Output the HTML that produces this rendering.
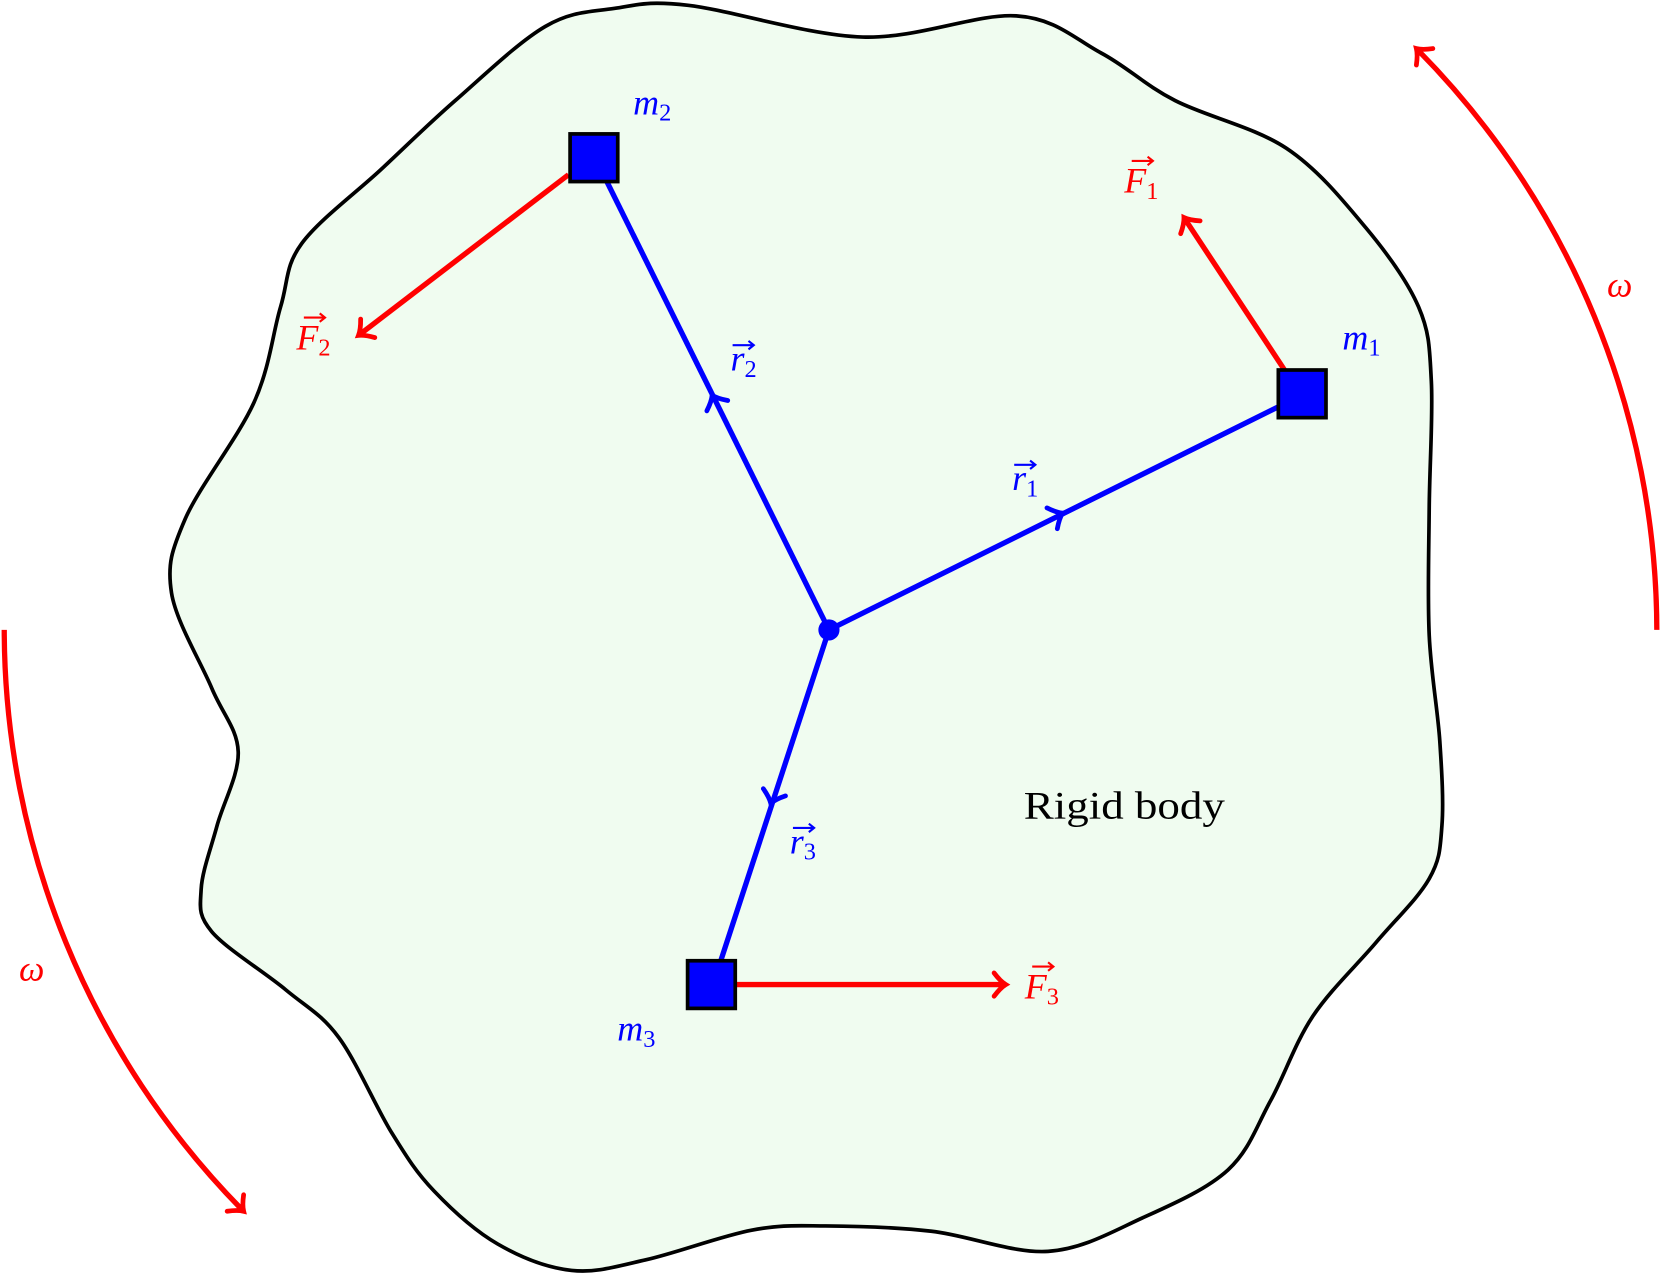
<!DOCTYPE html>
<html><head><meta charset="utf-8"><style>
html,body{margin:0;padding:0;background:#fff}
svg{display:block}
text{font-family:"Liberation Serif",serif}
.m{font-style:italic}
</style></head><body>
<svg id="s" width="1660" height="1281" viewBox="0 0 1568 1210" preserveAspectRatio="none" xmlns="http://www.w3.org/2000/svg">
<path id="blob" fill="#f0fcf0" stroke="#000" stroke-width="3.5"/>
<g id="g"></g>
<g fill="#00f" font-size="34">
<text x="598" y="108" class="m">m<tspan font-size="23" dy="6" font-style="normal">2</tspan></text>
<text x="1268" y="330" class="m">m<tspan font-size="23" dy="6" font-style="normal">1</tspan></text>
<text x="583" y="983" class="m">m<tspan font-size="23" dy="6" font-style="normal">3</tspan></text>
<text x="690" y="350" class="m">r<tspan font-size="23" dy="6" font-style="normal">2</tspan></text>
<text x="956" y="463" class="m">r<tspan font-size="23" dy="6" font-style="normal">1</tspan></text>
<text x="746" y="806" class="m">r<tspan font-size="23" dy="6" font-style="normal">3</tspan></text>
</g>
<g fill="#f00" font-size="34">
<text x="280" y="330" class="m">F<tspan font-size="23" dy="6" font-style="normal">2</tspan></text>
<text x="1062" y="182" class="m">F<tspan font-size="23" dy="6" font-style="normal">1</tspan></text>
<text x="968" y="943" class="m">F<tspan font-size="23" dy="6" font-style="normal">3</tspan></text>
<text x="1518" y="280" class="m">ω</text>
<text x="18" y="926" class="m">ω</text>
</g>
<text x="967" y="773" font-size="37" fill="#000" textLength="190" lengthAdjust="spacingAndGlyphs">Rigid body</text>
</svg>
<script>
var P=[[650,5],[815,35],[960,15],[1040,50],[1110,95],[1215,140],[1290,215],[1340,290],[1352,360],[1350,480],[1350,600],[1360,700],[1362,780],[1350,830],[1300,890],[1240,960],[1200,1040],[1160,1105],[1080,1150],[990,1182],[880,1163],[780,1158],[710,1162],[610,1190],[540,1200],[470,1175],[410,1125],[370,1070],[320,980],[270,935],[200,880],[190,840],[205,780],[225,710],[200,650],[162,560],[175,490],[240,380],[265,290],[285,230],[360,160],[430,95],[515,25],[580,8]];
var n=P.length,d="M"+P[0];
for(var i=0;i<n;i++){var p0=P[(i-1+n)%n],p1=P[i],p2=P[(i+1)%n],p3=P[(i+2)%n];
d+=" C"+(p1[0]+(p2[0]-p0[0])/6)+","+(p1[1]+(p2[1]-p0[1])/6)+" "+(p2[0]-(p3[0]-p1[0])/6)+","+(p2[1]-(p3[1]-p1[1])/6)+" "+p2[0]+","+p2[1];}
document.getElementById('blob').setAttribute('d',d+"Z");
var h="";
function line(a,b,c){h+='<line x1="'+a[0]+'" y1="'+a[1]+'" x2="'+b[0]+'" y2="'+b[1]+'" stroke="'+c+'" stroke-width="5"/>';}
function head(x,y,ang,c){h+='<path transform="translate('+x+','+y+') rotate('+ang+')" d="M-8,-11 Q-2,-3 3,0 Q-2,3 -8,11" fill="none" stroke="'+c+'" stroke-width="4.5" stroke-linecap="round"/>';}
function arrow(a,b,c){line(a,b,c);head(b[0],b[1],Math.atan2(b[1]-a[1],b[0]-a[0])*180/Math.PI,c);}
function vec(x,y){h+='<path d="M'+x+','+y+' h20 M'+(x+15)+','+(y-4)+' l5,4 l-5,4" stroke="'+arguments[2]+'" stroke-width="2" fill="none"/>';}
var C=[783,595];
line(C,[1210,383],"#00f");line(C,[570,165],"#00f");line(C,[680,910],"#00f");
function ang(a,b){return Math.atan2(b[1]-a[1],b[0]-a[0])*180/Math.PI}
head(1001,486,ang(C,[1210,383]),"#00f");head(674,376,ang(C,[570,165]),"#00f");head(729,756,ang(C,[680,910]),"#00f");
h+='<circle cx="783" cy="595" r="10" fill="#00f"/>';
arrow([1215,352],[1120,208],"#f00");arrow([537,165],[341,315],"#f00");arrow([695,930],[947,930],"#f00");
h+='<path d="M1565,595 A782,782 0 0 0 1340,48" fill="none" stroke="#f00" stroke-width="5"/>';
head(1340,48,-135,"#f00");
h+='<path d="M4,595 A782,782 0 0 0 228,1142" fill="none" stroke="#f00" stroke-width="5"/>';
head(228,1142,45,"#f00");
[[1230,372],[561,149],[672,930]].forEach(function(q){h+='<rect x="'+(q[0]-22.5)+'" y="'+(q[1]-22.5)+'" width="45" height="45" fill="#00f" stroke="#000" stroke-width="3.5"/>';});
vec(692,326,"#00f");vec(958,439,"#00f");vec(749,782,"#00f");
vec(287,300,"#f00");vec(1069,152,"#f00");vec(975,913,"#f00");
document.getElementById('g').innerHTML=h;
</script>
</body></html>
